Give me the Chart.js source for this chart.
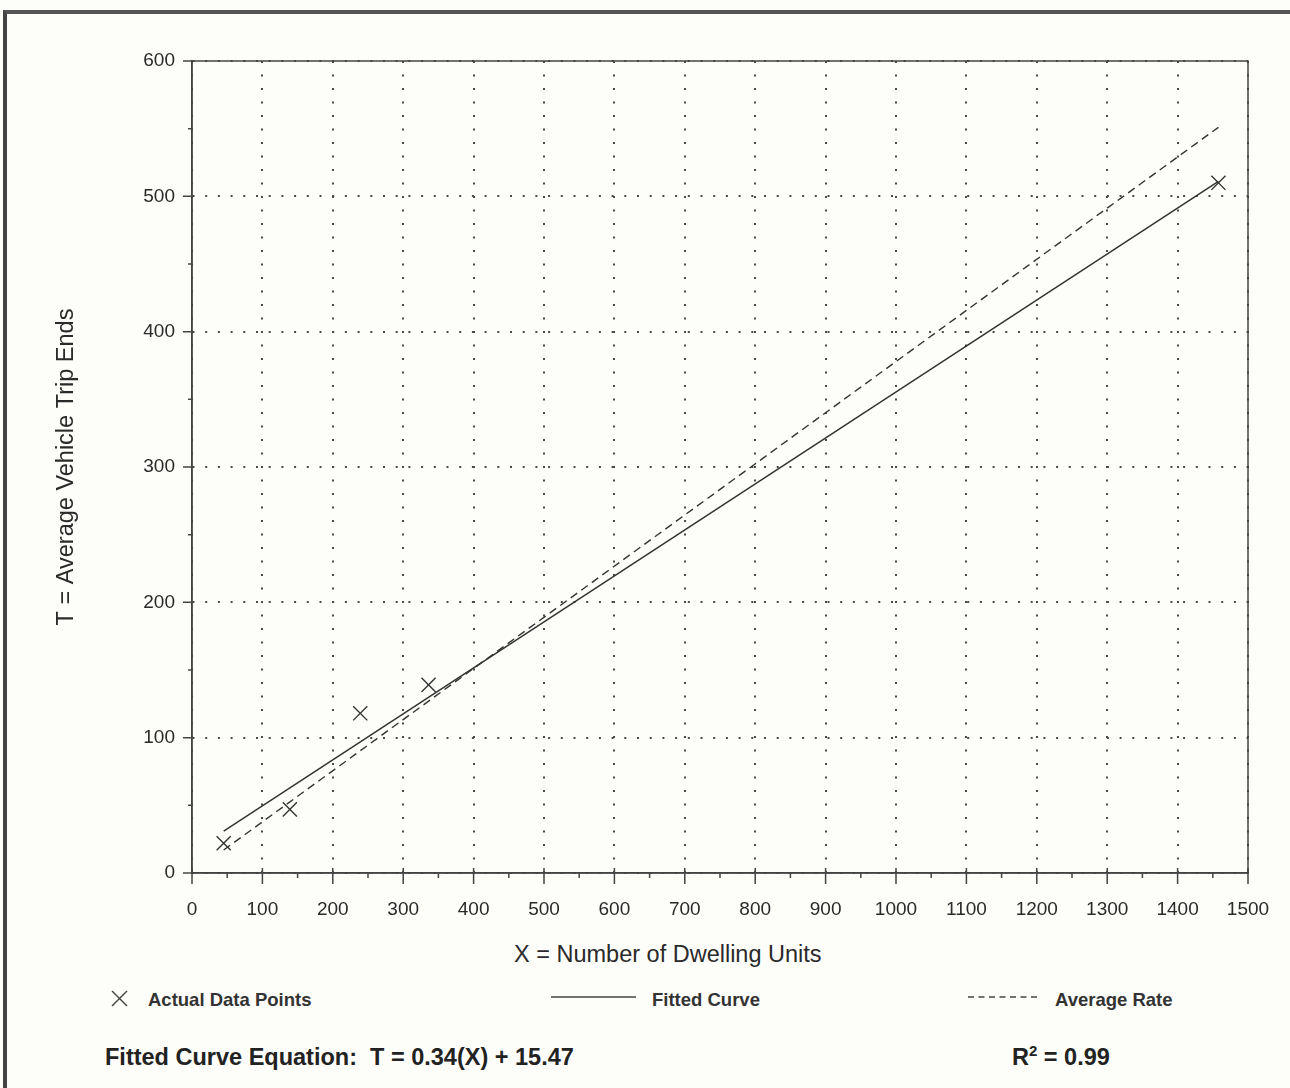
<!DOCTYPE html>
<html>
<head>
<meta charset="utf-8">
<script src="https://cdn.jsdelivr.net/npm/chart.js@4/dist/chart.umd.min.js"></script>
<style>
    html, body { margin: 0; padding: 0; }
    body {
        width: 1290px; height: 1088px; position: relative; overflow: hidden;
        background: #fdfdfa; font-family: "Liberation Sans", Arial, sans-serif; color: #2a2a2a;
    }
    #frame {
        position: absolute; left: 3px; top: 10px; width: 1300px; height: 1100px;
        border-top: 4px solid #555; border-left: 4px solid #444;
    }
    #tempChart { position: absolute; left: 0; top: 0; }
    .txt { position: absolute; white-space: nowrap; }
    .xTitle { font-size: 23.5px; left: 514px; top: 941px; }
    .leg { font-size: 18.5px; font-weight: bold; top: 989px; color: #333; }
    .eq { font-size: 23.5px; font-weight: bold; top: 1044px; color: #222; }
</style>
</head>
<body>
<div id="frame"></div>
<canvas id="tempChart" width="1290" height="940"></canvas>

<div class="txt xTitle">X = Number of Dwelling Units</div>

<svg style="position:absolute;left:0;top:985px" width="1290" height="26">
    <line x1="112" y1="6" x2="127" y2="21" stroke="#444" stroke-width="1.4"/>
    <line x1="127" y1="6" x2="112" y2="21" stroke="#444" stroke-width="1.4"/>
    <line x1="551" y1="12" x2="636" y2="12" stroke="#444" stroke-width="1.5"/>
    <line x1="968" y1="12" x2="1040" y2="12" stroke="#444" stroke-width="1.5" stroke-dasharray="6 4.5"/>
</svg>
<div class="txt leg" style="left:148px">Actual Data Points</div>
<div class="txt leg" style="left:652px">Fitted Curve</div>
<div class="txt leg" style="left:1055px">Average Rate</div>

<div class="txt eq" style="left:105px">Fitted Curve Equation:&nbsp; T = 0.34(X) + 15.47</div>
<div class="txt eq" style="left:1012px">R<sup style="font-size:15px;vertical-align:9px;line-height:0">2</sup> = 0.99</div>

<script>
    /* =========================
       DATA
    ========================== */
    const dwellingUnits = [45, 139, 239, 336, 1458];
    const tripEnds = [22, 47, 118, 139, 510];

    // fitted curve T = 0.34(X) + 15.47, endpoints
    const fittedX = [45, 1458];
    const fittedY = [31, 511];

    // average rate line endpoints
    const averageX = [45, 1458];
    const averageY = [17, 551];

    const xTickLabels = ["0", "100", "200", "300", "400", "500", "600", "700", "800", "900", "1000", "1100", "1200", "1300", "1400", "1500"];
    const yTickLabels = ["0", "100", "200", "300", "400", "500", "600"];

    const toPoints = (xs, ys) => xs.map((x, i) => ({ x, y: ys[i] }));

    /* =========================
       TICK MARKS + FRAME
    ========================== */
    const tickMarks = {
        id: "tickMarks",
        afterDraw(chart) {
            const { ctx, chartArea: a, scales: { x, y } } = chart;
            ctx.save();
            ctx.strokeStyle = "#444";
            ctx.lineWidth = 1.5;
            ctx.strokeRect(a.left, a.top, a.right - a.left, a.bottom - a.top);

            ctx.beginPath();
            x.ticks.forEach(t => {
                const px = x.getPixelForValue(t.value);
                ctx.moveTo(px, a.bottom - 5);
                ctx.lineTo(px, a.bottom + 11);
                if (t.value + 50 < x.max) {
                    const mx = x.getPixelForValue(t.value + 50);
                    ctx.moveTo(mx, a.bottom);
                    ctx.lineTo(mx, a.bottom + 5);
                }
            });
            y.ticks.forEach(t => {
                const py = y.getPixelForValue(t.value);
                ctx.moveTo(a.left - 9, py);
                ctx.lineTo(a.left, py);
                if (t.value + 50 < y.max) {
                    const my = y.getPixelForValue(t.value + 50);
                    ctx.moveTo(a.left - 4, my);
                    ctx.lineTo(a.left, my);
                }
            });
            ctx.stroke();
            ctx.restore();
        }
    };

    /* =========================
       CHART
    ========================== */
    const ctx = document.getElementById("tempChart").getContext("2d");

    new Chart(ctx, {
        type: "scatter",
        data: {
            datasets: [
                {
                    label: "Actual Data Points",
                    data: toPoints(dwellingUnits, tripEnds),
                    pointStyle: "crossRot",
                    pointRadius: 10,
                    borderColor: "#333",
                    borderWidth: 1.4,
                    backgroundColor: "#333"
                },
                {
                    label: "Fitted Curve",
                    data: toPoints(fittedX, fittedY),
                    showLine: true,
                    pointRadius: 0,
                    borderColor: "#333",
                    borderWidth: 1.5
                },
                {
                    label: "Average Rate",
                    data: toPoints(averageX, averageY),
                    showLine: true,
                    pointRadius: 0,
                    borderColor: "#333",
                    borderWidth: 1.4,
                    borderDash: [8, 5]
                }
            ]
        },
        options: {
            responsive: false,
            animation: false,
            layout: { padding: { left: 0, top: 61, right: 42, bottom: 0 } },
            plugins: {
                legend: { display: false },
                tooltip: { enabled: false }
            },
            scales: {
                x: {
                    type: "linear",
                    min: 0,
                    max: 1500,
                    afterFit: s => { s.height = 67; s.paddingLeft = 0; s.paddingRight = 0; },
                    ticks: {
                        stepSize: 100,
                        padding: 25,
                        color: "#2a2a2a",
                        font: { family: "Liberation Sans", size: 19 },
                        maxRotation: 0,
                        callback: (v, i) => xTickLabels[i]
                    },
                    grid: { color: "#4a4a4a", lineWidth: 2, drawTicks: false },
                    border: { color: "#444", width: 1.5, dash: [2, 11.5] }
                },
                y: {
                    type: "linear",
                    min: 0,
                    max: 600,
                    afterFit: s => { s.width = 192; s.paddingTop = 0; s.paddingBottom = 0; },
                    ticks: {
                        stepSize: 100,
                        padding: 17,
                        color: "#2a2a2a",
                        font: { family: "Liberation Sans", size: 19 },
                        callback: (v, i) => yTickLabels[i]
                    },
                    grid: { color: "#4a4a4a", lineWidth: 2, drawTicks: false },
                    border: { color: "#444", width: 1.5, dash: [2, 10.7] },
                    title: {
                        display: true,
                        text: "T = Average Vehicle Trip Ends",
                        color: "#2a2a2a",
                        font: { family: "Liberation Sans", size: 23.5 },
                        padding: { top: 52, bottom: 0 }
                    }
                }
            }
        },
        plugins: [tickMarks]
    });
</script>
</body>
</html>
